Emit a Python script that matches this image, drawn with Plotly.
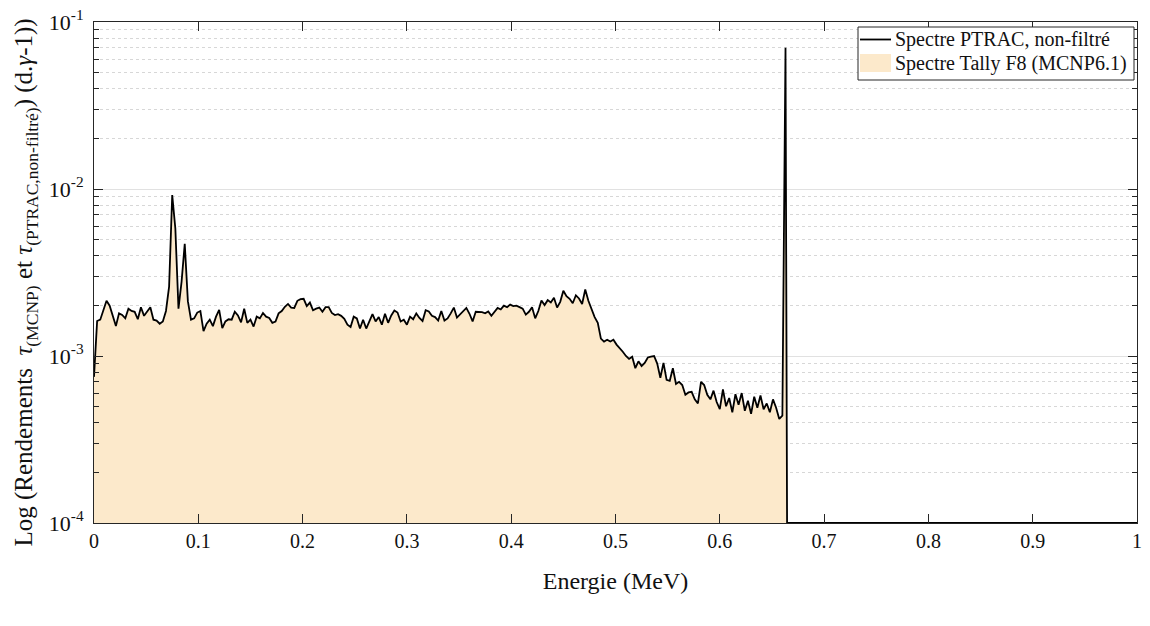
import numpy as np
import plotly.graph_objects as go

# ---------------- data ----------------
bin_width_mev = 0.003
spectrum_ptrac = [
    7.5e-4, 1.62e-3, 1.65e-3, 1.89e-3, 2.14e-3, 2.0e-3, 1.72e-3, 1.51e-3, 1.8e-3, 1.76e-3,
    1.68e-3, 1.92e-3, 1.86e-3, 1.84e-3, 1.66e-3, 1.96e-3, 1.74e-3, 1.84e-3, 1.96e-3, 1.65e-3,
    1.63e-3, 1.56e-3, 1.61e-3, 1.86e-3, 2.6e-3, 9.2e-3, 5.8e-3, 1.92e-3, 2.8e-3, 4.7e-3,
    2.13e-3, 1.65e-3, 1.68e-3, 1.82e-3, 1.86e-3, 1.41e-3, 1.56e-3, 1.65e-3, 1.51e-3, 1.72e-3,
    1.89e-3, 1.47e-3, 1.61e-3, 1.66e-3, 1.65e-3, 1.84e-3, 1.75e-3, 1.59e-3, 1.92e-3, 1.58e-3,
    1.65e-3, 1.50e-3, 1.72e-3, 1.68e-3, 1.81e-3, 1.72e-3, 1.69e-3, 1.58e-3, 1.61e-3, 1.80e-3,
    1.86e-3, 1.97e-3, 2.05e-3, 1.95e-3, 1.94e-3, 2.14e-3, 2.19e-3, 2.2e-3, 1.99e-3, 2.09e-3,
    1.88e-3, 1.92e-3, 1.95e-3, 1.84e-3, 1.96e-3, 1.96e-3, 1.81e-3, 1.76e-3, 1.78e-3, 1.74e-3,
    1.67e-3, 1.54e-3, 1.49e-3, 1.72e-3, 1.68e-3, 1.46e-3, 1.65e-3, 1.46e-3, 1.61e-3, 1.78e-3,
    1.61e-3, 1.71e-3, 1.54e-3, 1.79e-3, 1.58e-3, 1.75e-3, 1.87e-3, 1.82e-3, 1.61e-3, 1.65e-3,
    1.54e-3, 1.72e-3, 1.66e-3, 1.80e-3, 1.69e-3, 1.62e-3, 1.88e-3, 1.85e-3, 1.74e-3, 1.71e-3,
    1.63e-3, 1.86e-3, 1.63e-3, 1.68e-3, 1.80e-3, 1.95e-3, 1.70e-3, 1.78e-3, 1.88e-3, 1.94e-3,
    1.79e-3, 1.61e-3, 1.84e-3, 1.84e-3, 1.83e-3, 1.80e-3, 1.85e-3, 1.74e-3, 1.85e-3, 1.94e-3,
    1.90e-3, 2.0e-3, 1.96e-3, 2.03e-3, 1.99e-3, 2.0e-3, 1.96e-3, 1.92e-3, 1.77e-3, 1.84e-3,
    1.96e-3, 1.68e-3, 1.86e-3, 2.15e-3, 2.02e-3, 2.16e-3, 2.09e-3, 2.23e-3, 1.95e-3, 2.11e-3,
    2.46e-3, 2.28e-3, 2.2e-3, 2.07e-3, 2.31e-3, 2.21e-3, 2.05e-3, 2.5e-3, 2.14e-3, 1.9e-3,
    1.71e-3, 1.58e-3, 1.27e-3, 1.22e-3, 1.25e-3, 1.22e-3, 1.25e-3, 1.17e-3, 1.12e-3, 1.06e-3,
    1.0e-3, 9.6e-4, 9.9e-4, 8.45e-4, 9.3e-4, 8.7e-4, 9.1e-4, 9.8e-4, 9.9e-4, 1.0e-3,
    9.0e-4, 7.4e-4, 9.1e-4, 7.2e-4, 7.1e-4, 8.45e-4, 6.8e-4, 7.0e-4, 6.7e-4, 5.86e-4,
    6.05e-4, 6.1e-4, 5.5e-4, 5.2e-4, 7.0e-4, 6.7e-4, 5.86e-4, 5.5e-4, 6.2e-4, 5.3e-4,
    4.8e-4, 6.3e-4, 5.0e-4, 5.6e-4, 4.6e-4, 5.9e-4, 5.1e-4, 6.0e-4, 4.7e-4, 5.4e-4,
    4.5e-4, 5.7e-4, 4.9e-4, 5.8e-4, 4.8e-4, 5.2e-4, 4.6e-4, 5.5e-4, 4.9e-4, 4.2e-4,
    4.4e-4, 7.0e-2,
]
tail_energy = [0.6645, 1.0]
tail_value = [1e-4, 1e-4]

energy = list(np.round(np.arange(len(spectrum_ptrac)) * bin_width_mev, 4)) + tail_energy
ptrac = spectrum_ptrac + tail_value
tally_f8 = spectrum_ptrac + tail_value

series_names = ["Spectre PTRAC, non-filtré", "Spectre Tally F8 (MCNP6.1)"]
x_tick_vals = [0, 0.1, 0.2, 0.3, 0.4, 0.5, 0.6, 0.7, 0.8, 0.9, 1]
x_tick_text = ["0", "0.1", "0.2", "0.3", "0.4", "0.5", "0.6", "0.7", "0.8", "0.9", "1"]
y_tick_vals = [1e-4, 1e-3, 1e-2, 1e-1]
y_tick_text = ["10<sup>-4</sup>", "10<sup>-3</sup>", "10<sup>-2</sup>", "10<sup>-1</sup>"]
y_minor_vals = [m * 10.0 ** e for e in (-4, -3, -2) for m in range(2, 10)]

# ---------------- style / layout ----------------
FONT = "Liberation Serif"
FILL = "rgb(252,233,203)"
TXT = "#111111"
AXIS = "#262626"
W, H = 1150, 626
ML, MR, MT, MB = 86, 21, 14, 111
PW, PH = W - ML - MR, H - MT - MB


def px(xp):
    return (xp - ML) / PW


def py(yp):
    return (H - MB - yp) / PH


fig = go.Figure()
fig.add_trace(go.Scatter(x=energy, y=[1e-6] * len(energy), mode="lines",
                         line=dict(width=0, color=FILL), showlegend=False, hoverinfo="skip"))
fig.add_trace(go.Scatter(x=energy, y=tally_f8, mode="lines", name=series_names[1],
                         line=dict(width=0, color=FILL), fill="tonexty", fillcolor=FILL,
                         showlegend=False))
fig.add_trace(go.Scatter(x=energy, y=ptrac, mode="lines", name=series_names[0],
                         line=dict(width=1.8, color="black"), showlegend=False))

# legend box drawn by hand (MATLAB-like compact legend, inside the top-right corner)
box_l, box_r, box_t, box_b = 850, 1126, 19, 72
row1, row2 = 31.5, 55.5
shapes = [
    dict(type="rect", xref="paper", yref="paper", x0=px(box_l), x1=px(box_r), y0=py(box_b), y1=py(box_t),
         fillcolor="white", line=dict(color=AXIS, width=1), layer="above"),
    dict(type="line", xref="paper", yref="paper", x0=px(852), x1=px(883), y0=py(row1), y1=py(row1),
         line=dict(color="black", width=1.8), layer="above"),
    dict(type="rect", xref="paper", yref="paper", x0=px(852), x1=px(883), y0=py(64), y1=py(46),
         fillcolor=FILL, line=dict(width=0), layer="above"),
]
annotations = [
    dict(text=series_names[0], xref="paper", yref="paper", x=px(885), y=py(row1),
         xanchor="left", yanchor="middle", showarrow=False, font=dict(size=20, family=FONT, color=TXT)),
    dict(text=series_names[1], xref="paper", yref="paper", x=px(885), y=py(row2),
         xanchor="left", yanchor="middle", showarrow=False, font=dict(size=20, family=FONT, color=TXT)),
    dict(text="Log (Rendements  <i>τ</i><sub>(MCNP)</sub> et <i>τ</i><sub>(PTRAC,non-filtré)</sub>) (d.<i>γ</i>-1))",
         xref="paper", yref="paper", x=0, y=0.48, xanchor="center", yanchor="middle",
         xshift=-68, textangle=-90, showarrow=False, font=dict(size=25, family=FONT, color=TXT)),
]

fig.update_layout(
    width=W, height=H,
    margin=dict(l=ML, r=MR, t=MT, b=MB, autoexpand=False),
    paper_bgcolor="white", plot_bgcolor="white",
    font=dict(family=FONT, size=20, color=TXT),
    showlegend=False,
    shapes=shapes, annotations=annotations,
)
fig.update_xaxes(
    range=[0, 1], tickvals=x_tick_vals, ticktext=x_tick_text, automargin=False,
    showline=True, linecolor=AXIS, linewidth=1, mirror="ticks",
    ticks="inside", ticklen=9, tickcolor=AXIS, showgrid=False, zeroline=False,
    tickfont=dict(size=20, family=FONT, color=TXT), ticklabeloverflow="allow",
    title=dict(text="Energie (MeV)", font=dict(size=24, family=FONT, color=TXT), standoff=21),
)
fig.update_yaxes(
    type="log", range=[-4, -1], tickvals=y_tick_vals, ticktext=y_tick_text, automargin=False,
    showline=True, linecolor=AXIS, linewidth=1, mirror="ticks",
    ticks="inside", ticklen=9, tickcolor=AXIS, ticklabelstandoff=5,
    showgrid=True, gridcolor="rgb(225,225,225)", gridwidth=1, zeroline=False,
    tickfont=dict(size=22, family=FONT, color=TXT), ticklabeloverflow="allow",
    minor=dict(tickvals=y_minor_vals, ticks="inside", ticklen=5, tickcolor=AXIS,
               showgrid=True, gridcolor="rgb(215,215,215)", griddash="dot", gridwidth=1),
)

fig.write_html("out.html")
